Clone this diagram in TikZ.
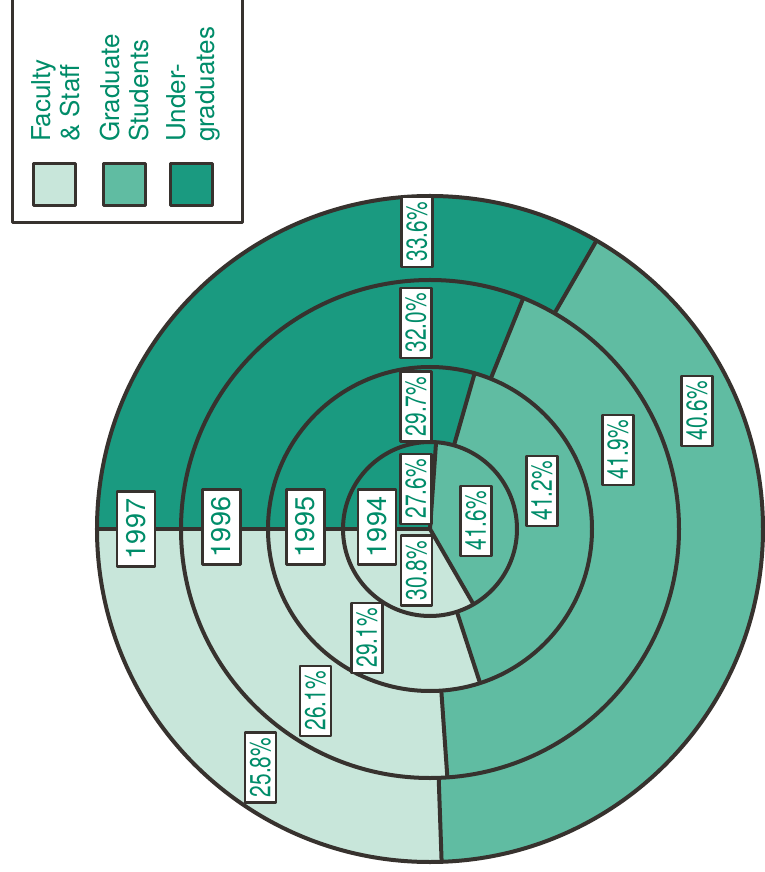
\documentclass[tikz,border=0pt]{standalone}
\usepackage{fontspec}
\setmainfont{TeX Gyre Heros}
\newfontfamily\narrowfont[FakeStretch=0.72]{TeX Gyre Heros}

\definecolor{undergrad}{RGB}{26,154,128}
\definecolor{grad}{RGB}{96,188,162}
\definecolor{staff}{RGB}{200,230,218}
\definecolor{ink}{RGB}{0,140,105}
\definecolor{rim}{RGB}{55,50,46}

\begin{document}
\begin{tikzpicture}[x=1pt, y=1pt, line width=4pt, line join=round,
	pct/.style={draw=rim, line width=2.2pt, fill=white, text=ink, rotate=90, inner sep=0pt,
		minimum width=70pt, minimum height=31pt, font=\narrowfont\fontsize{29}{29}\selectfont},
	year/.style={pct, minimum width=75pt, minimum height=38pt, font=\fontsize{27}{27}\selectfont},
	swatch/.style={draw=rim, line width=2.5pt, minimum size=42pt, inner sep=0pt},
	legtext/.style={text=ink, rotate=90, anchor=north west, inner sep=0pt, align=left,
		font=\fontsize{26}{29}\selectfont}]
	\useasboundingbox (-430,-343) rectangle (335,529);

	% 1994, inner disk
	\fill[undergrad] (0,0) -- (180:87) arc[start angle=180, end angle=86, radius=87] -- cycle;
	\fill[grad] (0,0) -- (86:87) arc[start angle=86, end angle=-60, radius=87] -- cycle;
	\fill[staff] (0,0) -- (-60:87) arc[start angle=-60, end angle=-180, radius=87] -- cycle;
	\draw[rim] (0,0) -- (86:87) (0,0) -- (-60:87);

	% 1995 - 1997, rings
	\foreach \ri/\ro/\ug/\gf in {87/162/74/-72, 162/249/68/-86, 249/333/60/-88} {
		\fill[undergrad] (180:\ri) arc[start angle=180, end angle=\ug, radius=\ri]
			-- (\ug:\ro) arc[start angle=\ug, end angle=180, radius=\ro] -- cycle;
		\fill[grad] (\ug:\ri) arc[start angle=\ug, end angle=\gf, radius=\ri]
			-- (\gf:\ro) arc[start angle=\gf, end angle=\ug, radius=\ro] -- cycle;
		\fill[staff] (\gf:\ri) arc[start angle=\gf, end angle=-180, radius=\ri]
			-- (-180:\ro) arc[start angle=-180, end angle=\gf, radius=\ro] -- cycle;
		\draw[rim] (\ug:\ri) -- (\ug:\ro) (\gf:\ri) -- (\gf:\ro);
	}
	\draw[rim] (0,0) -- (180:333);
	\foreach \r in {87,162,249,333}
		\draw[rim] (0,0) circle[radius=\r];

	% years
	\node[year] (y1994) at (-53,2) {1994};
	\node[year] (y1995) at (-124.5,2) {1995};
	\node[year] (y1996) at (-208.5,2) {1996};
	\node[year] (y1997) at (-294,0) {1997};

	% undergraduates
	\node[pct] (u1994) at (-14,40) {27.6\%};
	\node[pct] (u1995) at (-14,122.5) {29.7\%};
	\node[pct] (u1996) at (-14,206) {32.0\%};
	\node[pct] (u1997) at (-13,297) {33.6\%};

	% graduate students
	\node[pct] (g1994) at (46,8) {41.6\%};
	\node[pct] (g1995) at (112,38) {41.2\%};
	\node[pct] (g1996) at (188,79) {41.9\%};
	\node[pct] (g1997) at (267,118) {40.6\%};

	% faculty & staff
	\node[pct] (f1994) at (-13.5,-41.5) {30.8\%};
	\node[pct] (f1995) at (-63,-109) {29.1\%};
	\node[pct] (f1996) at (-114.5,-172) {26.1\%};
	\node[pct] (f1997) at (-169.5,-238.5) {25.8\%};

	% legend
	\draw[rim, line width=3pt] (-417,540) -- (-417,306) -- (-187,306) -- (-187,540);
	\node[swatch, fill=staff] (sStaff) at (-375.5,344.5) {};
	\node[swatch, fill=grad] (sGrad) at (-305.5,344.5) {};
	\node[swatch, fill=undergrad] (sUnder) at (-238.5,344.5) {};
	\node[legtext] (lStaff) at (-400,385) {Faculty\\\& Staff};
	\node[legtext] (lGrad) at (-332,385) {Graduate\\Students};
	\node[legtext] (lUnder) at (-265,385) {Under-\\graduates};
\end{tikzpicture}
\end{document}
